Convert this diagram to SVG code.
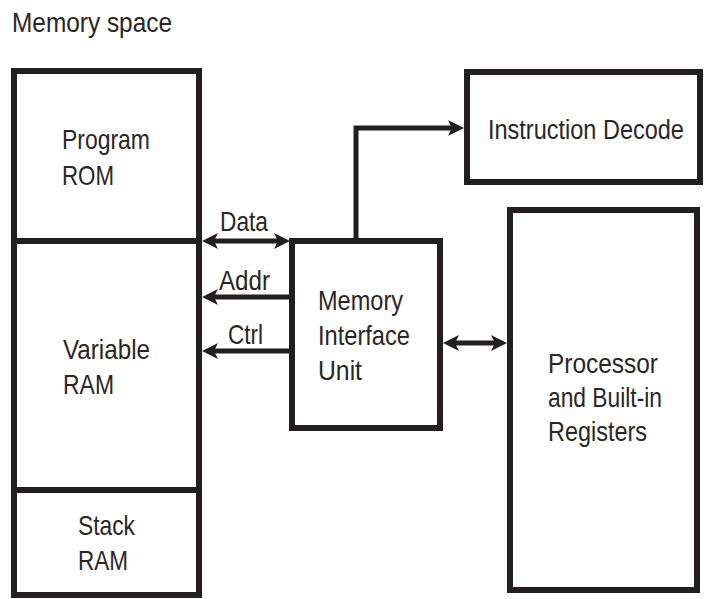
<svg xmlns="http://www.w3.org/2000/svg" width="715" height="599" viewBox="0 0 715 599">
  <style>
    .box { fill: #ffffff; stroke: #231f20; stroke-width: 6; }
    .div { stroke: #231f20; stroke-width: 6; fill: none; }
    .wire { stroke: #231f20; stroke-width: 5; fill: none; }
    .lbl { font-family: "Liberation Sans", Arial, sans-serif; font-size: 28.5px; fill: #2a2627; }
  </style>
  <defs>
    <marker id="head" viewBox="-6 -8 16 16" refX="0" refY="0" markerWidth="16" markerHeight="16" markerUnits="userSpaceOnUse" orient="auto-start-reverse">
      <path d="M10,0 L-6,-8 L-2,0 L-6,8 Z" fill="#231f20"/>
    </marker>
  </defs>

  <rect width="715" height="599" fill="#ffffff"/>

  <text class="lbl" x="12" y="32" textLength="160" lengthAdjust="spacingAndGlyphs">Memory space</text>

  <!-- memory map: ROM / variable RAM / stack RAM -->
  <g id="memory">
    <rect class="box" x="14" y="71" width="185" height="524"/>
    <line class="div" x1="14" y1="241" x2="199" y2="241"/>
    <line class="div" x1="14" y1="490" x2="199" y2="490"/>
    <g id="program-rom">
      <text class="lbl" x="62" y="149" textLength="88" lengthAdjust="spacingAndGlyphs">Program</text>
      <text class="lbl" x="62" y="185" textLength="52" lengthAdjust="spacingAndGlyphs">ROM</text>
    </g>
    <g id="variable-ram">
      <text class="lbl" x="63" y="359" textLength="87" lengthAdjust="spacingAndGlyphs">Variable</text>
      <text class="lbl" x="63" y="394" textLength="51" lengthAdjust="spacingAndGlyphs">RAM</text>
    </g>
    <g id="stack-ram">
      <text class="lbl" x="78" y="535" textLength="57" lengthAdjust="spacingAndGlyphs">Stack</text>
      <text class="lbl" x="78" y="570" textLength="50" lengthAdjust="spacingAndGlyphs">RAM</text>
    </g>
  </g>

  <g id="miu">
    <rect class="box" x="292" y="241" width="148" height="187"/>
    <text class="lbl" x="318" y="310" textLength="85" lengthAdjust="spacingAndGlyphs">Memory</text>
    <text class="lbl" x="318" y="345" textLength="92" lengthAdjust="spacingAndGlyphs">Interface</text>
    <text class="lbl" x="318" y="380" textLength="44" lengthAdjust="spacingAndGlyphs">Unit</text>
  </g>

  <g id="decode">
    <rect class="box" x="467" y="72" width="233" height="110"/>
    <!-- condensed horizontally so the long label sits inside the box -->
    <text class="lbl" transform="translate(488,139) scale(0.825,1)">Instruction Decode</text>
  </g>

  <g id="processor">
    <rect class="box" x="510" y="210" width="187" height="380"/>
    <text class="lbl" x="548" y="373" textLength="110" lengthAdjust="spacingAndGlyphs">Processor</text>
    <text class="lbl" x="548" y="407" textLength="114" lengthAdjust="spacingAndGlyphs">and Built-in</text>
    <text class="lbl" x="548" y="441" textLength="99" lengthAdjust="spacingAndGlyphs">Registers</text>
  </g>

  <g id="connectors">
    <path class="wire" d="M212,241 H280" marker-start="url(#head)" marker-end="url(#head)"/>
    <path class="wire" d="M292,297 H212" marker-end="url(#head)"/>
    <path class="wire" d="M292,351 H212" marker-end="url(#head)"/>
    <path class="wire" d="M356,241 V128 H454" marker-end="url(#head)"/>
    <path class="wire" d="M453,343 H497" marker-start="url(#head)" marker-end="url(#head)"/>
    <text class="lbl" x="220" y="231" textLength="48" lengthAdjust="spacingAndGlyphs">Data</text>
    <text class="lbl" x="219" y="290" textLength="51" lengthAdjust="spacingAndGlyphs">Addr</text>
    <text class="lbl" x="228" y="344" textLength="35" lengthAdjust="spacingAndGlyphs">Ctrl</text>
  </g>
</svg>
